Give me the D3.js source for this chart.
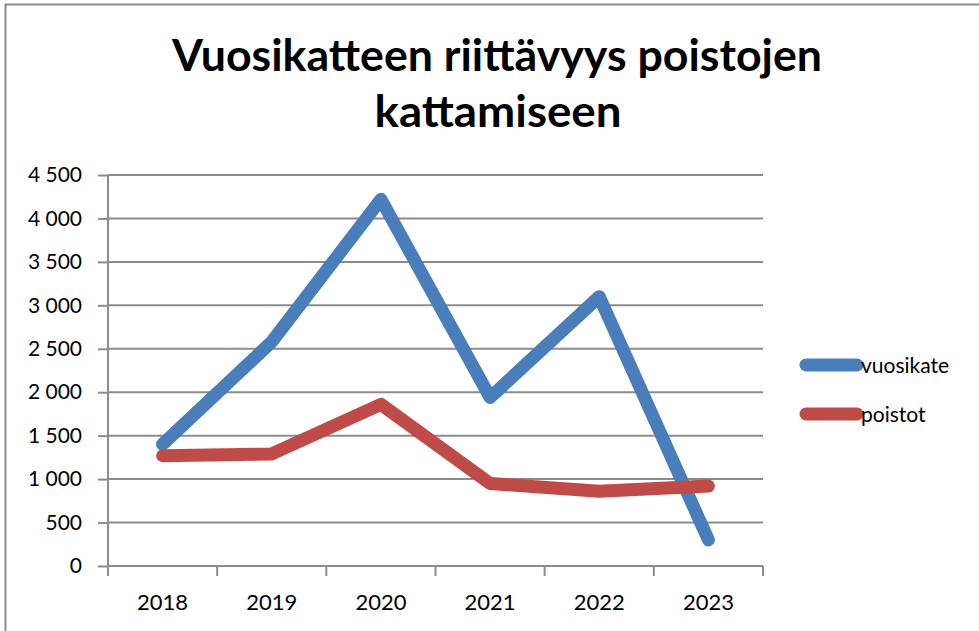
<!DOCTYPE html>
<html>
<head>
<meta charset="utf-8">
<script src="https://cdn.jsdelivr.net/npm/d3@7"></script>
<style>
  body { margin: 0; background: #fff; }
  svg { display: block; font-family: Lato, "Open Sans", sans-serif; }
</style>
</head>
<body>
<svg width="979" height="631"></svg>
<script>
// Chart data
const years = ["2018", "2019", "2020", "2021", "2022", "2023"];
const vuosikate = [1400, 2580, 4220, 1940, 3100, 300];
const poistot = [1270, 1290, 1860, 950, 860, 920];
const yTicks = [0, 500, 1000, 1500, 2000, 2500, 3000, 3500, 4000, 4500];
const seriesNames = ["vuosikate", "poistot"];
const seriesColors = ["#4A7EBB", "#BE4B48"];

const svg = d3.select("svg");

// Outer frame (top and left edge visible)
svg.append("path")
    .attr("d", "M5,4.5H979M5.5,4V631")
    .attr("stroke", "#8a8a8a")
    .attr("stroke-width", 2)
    .attr("fill", "none");

// Title
const title = svg.append("text")
    .attr("text-anchor", "middle")
    .attr("font-weight", "bold")
    .attr("font-size", 43)
    .attr("fill", "#000");
title.append("tspan").attr("x", 497).attr("y", 71)
    .attr("textLength", 650).attr("lengthAdjust", "spacingAndGlyphs")
    .text("Vuosikatteen riittävyys poistojen");
title.append("tspan").attr("x", 498).attr("y", 127)
    .attr("textLength", 247).attr("lengthAdjust", "spacingAndGlyphs")
    .text("kattamiseen");

const x = d3.scaleBand().domain(years).range([108, 763]);
const y = d3.scaleLinear().domain([0, 4500]).range([566, 175]);

// Gridlines
svg.append("g")
    .selectAll("line")
    .data(yTicks.filter(d => d > 0))
    .join("line")
    .attr("x1", 108).attr("x2", 763)
    .attr("y1", d => y(d)).attr("y2", d => y(d))
    .attr("stroke", "#8c8c8c")
    .attr("stroke-width", 2);

// Y axis
const yAxis = svg.append("g")
    .attr("transform", "translate(108,0)")
    .call(d3.axisLeft(y).tickValues(yTicks).tickSize(10).tickPadding(16)
        .tickFormat(d => d3.format(",")(d).replace(",", " ")));
yAxis.selectAll("line, path").attr("stroke", "#8c8c8c").attr("stroke-width", 2);
yAxis.select(".domain").attr("d", "M0,175V566");
yAxis.selectAll("text").attr("font-size", 21).attr("fill", "#000")
    .attr("font-family", "Lato, sans-serif");

// X axis
const xAxis = svg.append("g")
    .attr("transform", "translate(0,566)")
    .call(d3.axisBottom(x).tickSize(0).tickPadding(28));
xAxis.select(".domain").attr("stroke", "#8c8c8c").attr("stroke-width", 2).attr("d", "M108,0H763");
xAxis.selectAll("text").attr("font-size", 22).attr("fill", "#000")
    .attr("font-family", "Lato, sans-serif");
svg.append("g")
    .selectAll("line")
    .data(years.map(d => x(d)).concat([x.range()[1]]))
    .join("line")
    .attr("x1", d => d).attr("x2", d => d)
    .attr("y1", 566).attr("y2", 576)
    .attr("stroke", "#8c8c8c")
    .attr("stroke-width", 2);

// Lines
const line = d3.line()
    .x((d, i) => x(years[i]) + x.bandwidth() / 2)
    .y(d => y(d));

[vuosikate, poistot].forEach((vals, i) => {
    svg.append("path")
        .datum(vals)
        .attr("d", line)
        .attr("fill", "none")
        .attr("stroke", seriesColors[i])
        .attr("stroke-width", 13)
        .attr("stroke-linecap", "round")
        .attr("stroke-linejoin", "round");
});

// Legend
const legend = svg.append("g")
    .selectAll("g")
    .data(seriesNames)
    .join("g")
    .attr("transform", (d, i) => `translate(0,${365 + i * 49})`);
legend.append("line")
    .attr("x1", 806).attr("x2", 857)
    .attr("stroke", (d, i) => seriesColors[i])
    .attr("stroke-width", 13)
    .attr("stroke-linecap", "round");
legend.append("text")
    .attr("x", 861).attr("y", 8)
    .attr("font-size", 21)
    .attr("fill", "#000")
    .text(d => d);
</script>
</body>
</html>
